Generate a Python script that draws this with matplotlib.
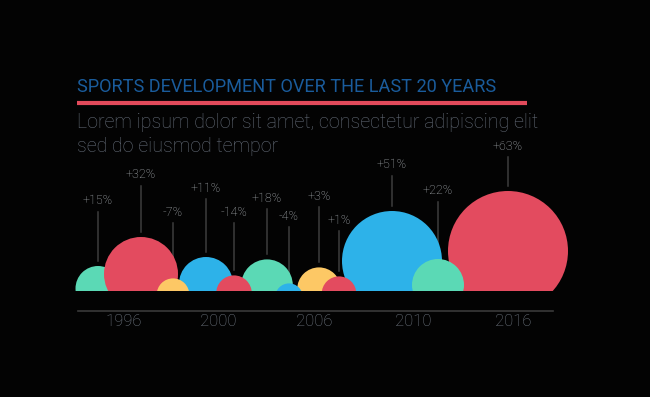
"""Bubble timeline: sports development over the last 20 years."""
import numpy as np
import matplotlib
matplotlib.use("Agg")
import matplotlib.pyplot as plt
from matplotlib.patches import Circle, Rectangle

# ---- data ----
changes = ["+15%", "+32%", "-7%", "+11%", "-14%", "+18%", "-4%",
           "+3%", "+1%", "+51%", "+22%", "+63%"]
positions = [98, 141, 173, 206, 234, 267, 289, 319, 339, 392, 438, 508]
radii = [22.5, 37, 16.3, 27, 17.8, 25.8, 13.8, 21.8, 17.3, 50, 26, 60]
label_heights = [110, 136, 99, 123, 99, 113, 95, 115, 91, 146, 120, 165]
colors = ["#5bd9b5", "#e34b5f", "#fdc865", "#2db2e9", "#e34b5f", "#5bd9b5",
          "#2db2e9", "#fdc865", "#e34b5f", "#2db2e9", "#5bd9b5", "#e34b5f"]
tick_years = ["1996", "2000", "2006", "2010", "2016"]
tick_pos = [124, 218, 314, 413, 513]

# draw order (last on top)
draw_order = [11, 9, 0, 1, 5, 3, 10, 7, 2, 4, 8, 6]

BG = "#030303"
plt.rcParams["font.family"] = ["Roboto", "DejaVu Sans"]

fig = plt.figure(figsize=(6.5, 3.97), dpi=100, facecolor=BG)
ax = fig.add_axes([0, 0, 1, 1])
ax.set_facecolor(BG)
ax.set_xlim(0, 650)
ax.set_ylim(-86, 311)   # 1 unit = 1 px, axis line at y=0
ax.axis("off")

clip = Rectangle((0, 20), 650, 400, transform=ax.transData)
for i in draw_order:
    c = Circle((positions[i], radii[i]), radii[i], color=colors[i],
               lw=0, zorder=2 + draw_order.index(i))
    ax.add_patch(c)
    c.set_clip_path(clip)

for x, r, h, lab in zip(positions, radii, label_heights, changes):
    ax.plot([x, x], [2 * r + 5, h - 11], color="#3d3d3d", lw=1.1, zorder=1)
    ax.text(x, h, lab, ha="center", va="center", fontsize=9,
            fontweight="light", color="#b2b7bc")

ax.plot([78, 553], [0, 0], color="#3a3a3a", lw=1.2)
for x, t in zip(tick_pos, tick_years):
    ax.text(x, -10, t, ha="center", va="center", fontsize=12,
            fontweight="light", color="#737b86")

# ---- header ----
fig.text(77 / 650, 1 - 87 / 397, "SPORTS DEVELOPMENT OVER THE LAST 20 YEARS",
         ha="left", va="center", fontsize=13.1, color="#1a5c9c")
ax.plot([77, 527], [311 - 102.5, 311 - 102.5], color="#e24a5b", lw=3,
        solid_capstyle="butt")
for y, line in [(123, "Lorem ipsum dolor sit amet, consectetur adipiscing elit"),
                (146, "sed do eiusmod tempor")]:
    fig.text(77 / 650, 1 - y / 397, line, ha="left", va="center",
             fontsize=14.1, fontweight="light", color="#646c78")

fig.savefig("out.png", dpi=100, facecolor=BG)
